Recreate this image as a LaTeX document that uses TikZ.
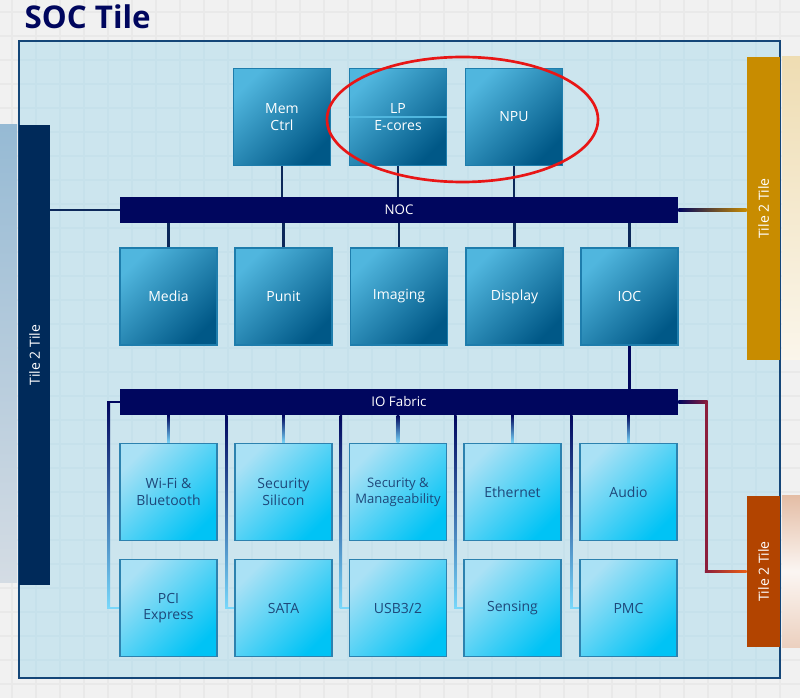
\documentclass[tikz,border=0pt]{standalone}
\usepackage{fontspec}
\setmainfont{Open Sans}
\usetikzlibrary{positioning}

\definecolor{pagebg}{RGB}{241,241,241}
\definecolor{pagegrid}{RGB}{233,233,233}
\definecolor{boxfill}{RGB}{204,229,238}
\definecolor{boxgrid}{RGB}{198,225,235}
\definecolor{boxedge}{RGB}{20,70,120}
\definecolor{navybar}{RGB}{0,6,94}
\definecolor{linkdark}{RGB}{12,40,90}
\definecolor{tileleft}{RGB}{0,42,90}
\definecolor{gold}{RGB}{200,140,0}
\definecolor{rust}{RGB}{178,68,0}
\definecolor{blklight}{RGB}{80,182,222}
\definecolor{blkdark}{RGB}{0,88,135}
\definecolor{blkedge}{RGB}{30,125,172}
\definecolor{iolight}{RGB}{170,225,245}
\definecolor{iodark}{RGB}{0,195,245}
\definecolor{ioedge}{RGB}{45,130,175}
\definecolor{iotext}{RGB}{30,72,122}
\definecolor{cyanline}{RGB}{120,215,250}
\definecolor{maroon}{RGB}{140,30,60}
\definecolor{orangeline}{RGB}{235,95,20}
\definecolor{ringred}{RGB}{232,22,22}
\definecolor{steeltop}{RGB}{150,186,212}
\definecolor{steelbot}{RGB}{212,220,228}

\begin{document}
\begin{tikzpicture}[x=0.75pt,y=-0.75pt,
  blk/.style={draw=blkedge, line width=0.9pt, top color=blklight, bottom color=blkdark,
    shading angle=45, minimum width=72.75pt, minimum height=72.75pt, inner sep=0pt,
    text=white, align=center, font=\fontsize{10.5}{12.5}\selectfont},
  io/.style={blk, draw=ioedge, top color=iolight, bottom color=iodark, shading angle=45,
    text=iotext},
  bar/.style={fill=navybar, minimum width=418.5pt, minimum height=19.5pt, inner sep=0pt,
    text=white, font=\fontsize{10}{12}\selectfont},
  tile/.style={minimum width=24.75pt, inner sep=0pt, text=white,
    font=\fontsize{10.5}{12}\selectfont},
  bus/.style={draw=linkdark, line width=2pt},
]
  \useasboundingbox (0,0) rectangle (800,698);
  \fill[pagebg] (0,0) rectangle (800,698);
  \foreach \x in {12,36,...,800} \draw[pagegrid, line width=0.8pt] (\x,0) -- (\x,698);
  \foreach \y in {12,36,...,698} \draw[pagegrid, line width=0.8pt] (0,\y) -- (800,\y);

  \node[anchor=base west, text=navybar, font=\fontsize{23.5}{28}\selectfont\bfseries]
    (title) at (20,29) {SOC Tile};

  % soft edges of the neighbour tiles
  \shade[top color=steeltop, bottom color=steelbot] (0,125) rectangle (17,582);
  \shade[top color=gold!30, bottom color=gold!8] (782,57) rectangle (800,360);
  \shade[top color=rust!35, bottom color=rust!25, middle color=rust!5] (782,496) rectangle (800,647);

  \fill[boxfill] (19,41) rectangle (780,678);
  \begin{scope}
    \clip (19,41) rectangle (780,678);
    \foreach \x in {12,36,...,800} \draw[boxgrid, line width=0.8pt] (\x,0) -- (\x,698);
    \foreach \y in {12,36,...,698} \draw[boxgrid, line width=0.8pt] (0,\y) -- (800,\y);
  \end{scope}
  \draw[boxedge, line width=1pt] (19,41) rectangle (780,678);

  \node[tile, fill=tileleft, minimum width=23.25pt, minimum height=345pt] (tl) at (34.5,355)
    {\rotatebox{90}{Tile 2 Tile}};
  \node[tile, fill=gold, minimum height=227.25pt] (tt) at (763.5,208.5)
    {\rotatebox{90}{Tile 2 Tile}};
  \node[tile, fill=rust, minimum height=113.25pt] (tb) at (763.5,571.5)
    {\rotatebox{90}{Tile 2 Tile}};

  \node[bar] (noc) at (399,210) {NOC};
  \node[bar] (iofab) at (399,402) {IO Fabric};

  \node[blk] (memctrl) at (282,117) {Mem\\Ctrl};
  \node[blk] (lpe) at (398,117) {LP\\E-cores};
  \node[blk] (npu) at (514,117) {NPU};
  \draw[blklight, line width=1.2pt] (lpe.west) -- (lpe.east);

  \node[blk] (media) at (168.5,296.5) {Media};
  \node[blk] (punit) at (283.5,296.5) {Punit};
  \node[blk] (imaging) at (399,296.5) {Imaging};
  \node[blk] (display) at (514.5,296.5) {Display};
  \node[blk] (ioc) at (629.5,296.5) {IOC};

  \node[io] (wifi) at (168.5,492) {Wi-Fi \&\\Bluetooth};
  \node[io] (secsil) at (283.5,492) {Security\\Silicon};
  \node[io, font=\fontsize{9.8}{12}\selectfont] (secman) at (398,492) {Security \&\\Manageability};
  \node[io] (eth) at (512.5,492) {Ethernet};
  \node[io] (audio) at (628.5,492) {Audio};
  \node[io] (pci) at (168.5,608) {PCI\\Express};
  \node[io] (sata) at (283.5,608) {SATA};
  \node[io] (usb) at (398,608) {USB3/2};
  \node[io] (sensing) at (512.5,608) {Sensing};
  \node[io] (pmc) at (628.5,608) {PMC};

  \draw[bus] (tl.east |- noc.west) -- (noc.west);
  \foreach \b in {memctrl,lpe,npu}
    \draw[bus] (\b.south) -- (\b.south |- noc.north);
  \foreach \b in {media,punit,imaging,display,ioc}
    \draw[bus] (\b.north) -- (\b.north |- noc.south);
  \draw[bus, draw=navybar] (ioc.south) -- (ioc.south |- iofab.north);
  \shade[left color=navybar, right color=gold] ([yshift=1pt]noc.east) rectangle ([yshift=-1pt]noc.east -| tt.west);

  \foreach \b in {wifi,secsil,secman,eth,audio}
    \shade[top color=navybar, bottom color=cyanline] ([xshift=-1pt]\b.north |- iofab.south) rectangle ([xshift=1pt]\b.north);
  \foreach \b in {sata,usb,sensing,pmc} {
    \shade[top color=navybar, bottom color=cyanline] ([xshift=-7pt]\b.west |- iofab.south) rectangle ([xshift=-5pt]\b.west);
    \draw[cyanline, line width=2pt] ([xshift=-7pt]\b.west) -- (\b.west);
  }

  \coordinate (pcicorner) at ([xshift=-8.25pt]iofab.west);
  \draw[navybar, line width=2pt] ([xshift=-1pt]pcicorner) -- (iofab.west);
  \shade[top color=navybar, bottom color=cyanline] ([xshift=-1pt]pcicorner) rectangle ([xshift=1pt]pcicorner |- pci.west);
  \draw[cyanline, line width=2pt] ([xshift=-1pt]pcicorner |- pci.west) -- (pci.west);

  \coordinate (fabcorner) at ([xshift=21pt]iofab.east);
  \shade[left color=navybar, right color=maroon] ([yshift=1pt]iofab.east) rectangle ([xshift=1pt,yshift=-1pt]fabcorner);
  \draw[maroon, line width=2pt] (fabcorner) -- (fabcorner |- tb.west);
  \shade[left color=maroon, right color=orangeline] ([xshift=-1pt,yshift=1pt]fabcorner |- tb.west) rectangle ([yshift=-1pt]tb.west);

  \draw[ringred, line width=2pt] (462.5,119.5) ellipse [x radius=135.5, y radius=62.5];
\end{tikzpicture}
\end{document}
